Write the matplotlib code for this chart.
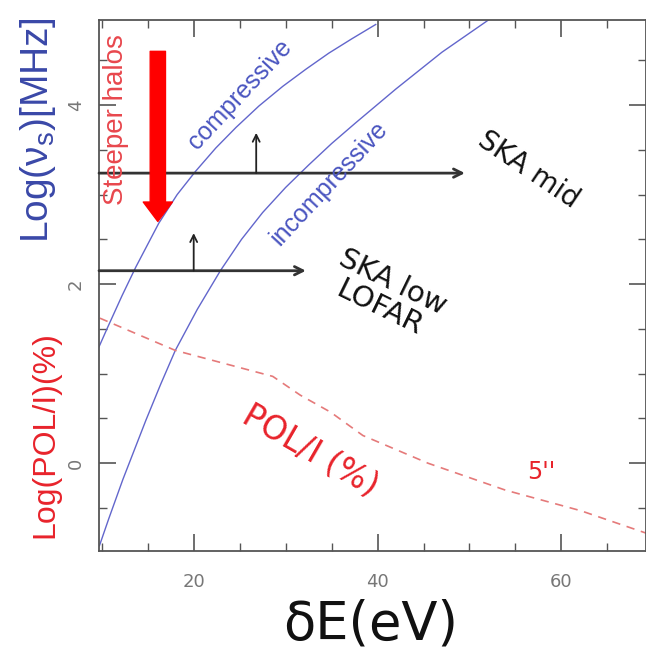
import numpy as np
import matplotlib
matplotlib.use("Agg")
import matplotlib.pyplot as plt
from matplotlib.ticker import MultipleLocator

# curves (dE in eV, log values)
comp_x = [9.7, 10.65, 12.2, 13.7, 16.2, 18.2, 20.2, 22.4, 24.6, 27.1, 29.7, 32.2, 34.7, 37.2, 39.8]
comp_y = [1.30, 1.52, 1.87, 2.19, 2.68, 3.00, 3.26, 3.52, 3.75, 3.99, 4.21, 4.40, 4.58, 4.74, 4.90]

incomp_x = [9.75, 10.76, 12.3, 14.8, 16.4, 18.0, 20.4, 22.9, 25.2, 27.5, 30.0, 32.5, 35.0, 37.6, 42.0, 47.0, 52.2]
incomp_y = [-0.92, -0.62, -0.18, 0.48, 0.88, 1.26, 1.72, 2.15, 2.50, 2.80, 3.08, 3.33, 3.57, 3.80, 4.18, 4.59, 4.96]

pol_x = [9.8, 18.0, 28.6, 31.6, 34.9, 38.4, 45.5, 53.9, 62.1, 69.2]
pol_y = [1.62, 1.26, 0.97, 0.76, 0.57, 0.31, 0.0, -0.30, -0.53, -0.78]

# instrument bands
ska_mid = dict(freq=3.24, x_end=49.5, up_x=26.8, up_to=3.69)
ska_low = dict(freq=2.15, x_end=32.2, up_x=20.0, up_to=2.57)
steep_x, steep_from, steep_to = 16.1, 4.60, 2.70

blue = "#6266cc"
red = "#e8232b"

fig = plt.figure(figsize=(6.46, 6.52), dpi=100)
ax = fig.add_axes([99/646, 101/652, 547/646, 531/652])

ax.plot(comp_x, comp_y, color=blue, lw=1.0)
ax.plot(incomp_x, incomp_y, color=blue, lw=1.0)
ax.plot(pol_x, pol_y, color="#e57a7a", lw=1.2, ls=(0, (5, 4)))

ax.set_xlim(9.7, 69.2)
ax.set_ylim(-0.98, 4.95)

# horizontal band arrows + small up arrows
for b in (ska_mid, ska_low):
    ax.annotate("", xy=(b["x_end"], b["freq"]), xytext=(9.7, b["freq"]),
                arrowprops=dict(arrowstyle="->,head_length=0.6,head_width=0.3",
                                color="#333333", lw=2.0, shrinkA=0, shrinkB=0))
    ax.annotate("", xy=(b["up_x"], b["up_to"]), xytext=(b["up_x"], b["freq"]),
                arrowprops=dict(arrowstyle="->,head_length=0.5,head_width=0.25",
                                color="#222222", lw=1.3, shrinkA=0, shrinkB=0))

ax.annotate("", xy=(steep_x, steep_to), xytext=(steep_x, steep_from),
            arrowprops=dict(arrowstyle="simple,head_width=1.05,head_length=0.7,tail_width=0.55",
                            color="red", mutation_scale=20, shrinkA=0, shrinkB=0))

# texts
ax.text(11.5, 3.84, "Steeper halos", color="#e8474d", fontsize=20, rotation=90,
        ha="center", va="center", family="Liberation Sans")
ax.text(25.0, 4.12, "compressive", color="#4a55c0", fontsize=18, rotation=47,
        ha="center", va="center", family="Liberation Sans")
ax.text(34.7, 3.13, "incompressive", color="#4a55c0", fontsize=18, rotation=47,
        ha="center", va="center", family="Liberation Sans")
ax.text(56.4, 3.28, "SKA mid", color="#111111", fontsize=20, rotation=-34,
        ha="center", va="center")
ax.text(40.9, 1.88, "SKA low\nLOFAR", color="#111111", fontsize=21, rotation=-26,
        ha="center", va="center", linespacing=1.05)
ax.text(32.7, 0.14, "POL/I (%)", color=red, fontsize=23.5, rotation=-30,
        ha="center", va="center")
ax.text(57.8, -0.1, "5''", color=red, fontsize=17, ha="center", va="center")

# ticks
ax.xaxis.set_major_locator(MultipleLocator(20))
ax.xaxis.set_minor_locator(MultipleLocator(5))
ax.yaxis.set_major_locator(MultipleLocator(2))
ax.yaxis.set_minor_locator(MultipleLocator(0.5))
ax.tick_params(which="both", direction="in", top=True, right=True,
               colors="#555555", labelcolor="#777777", labelsize=13)
ax.tick_params(which="major", length=12, width=1.2)
ax.tick_params(which="minor", length=6, width=1.0)
ax.tick_params(axis="x", pad=16)
ax.tick_params(axis="y", pad=10)
for lab in ax.get_yticklabels():
    lab.set_rotation(90)
    lab.set_va("center")
for s in ax.spines.values():
    s.set_color("#555555")
    s.set_linewidth(1.3)

fig.text(38/646, 1 - 130/652, r"Log($\mathregular{\nu_s}$)[MHz]", color="#3a48a8",
         fontsize=28, rotation=90, ha="center", va="center", family="Liberation Sans")
fig.text(45/646, 1 - 435/652, "Log(POL/I)(%)", color=red, fontsize=23,
         rotation=90, ha="center", va="center", family="Liberation Sans")
fig.text(371/646, 1 - 625/652, "δE(eV)", color="#111111", fontsize=38,
         ha="center", va="center")

fig.savefig("out.png", dpi=100)
